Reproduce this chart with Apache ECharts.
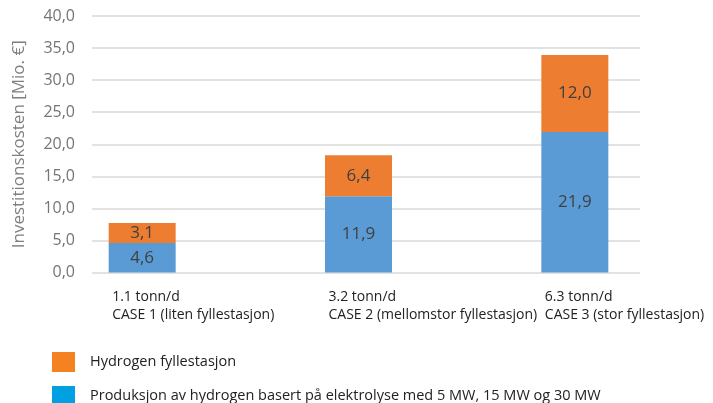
<!DOCTYPE html>
<html>
<head>
<meta charset="utf-8">
<script src="https://cdn.jsdelivr.net/npm/echarts@6/dist/echarts.min.js"></script>
<style>
  html, body { margin: 0; padding: 0; background: #fff; }
  #chart { width: 713px; height: 403px; }
</style>
</head>
<body>
<div id="chart"></div>
<script>
// data
var cases = ['1.1 tonn/d\nCASE 1 (liten fyllestasjon)', '3.2 tonn/d\nCASE 2 (mellomstor fyllestasjon)', '6.3 tonn/d\nCASE 3 (stor fyllestasjon)'];
var produksjon = [4.6, 11.9, 21.9];
var fyllestasjon = [3.1, 6.4, 12.0];
var seriesNames = ['Produksjon av hydrogen basert på elektrolyse med 5 MW, 15 MW og 30 MW', 'Hydrogen fyllestasjon'];

var fmt = function (v) { return Number(v).toFixed(1).replace('.', ','); };
var font = "'Open Sans', 'Noto Sans', sans-serif";

var legendBase = {
    left: 47,
    itemWidth: 23,
    itemHeight: 20,
    icon: 'rect',
    selectedMode: false,
    textStyle: { fontSize: 14.5, color: '#222', padding: [0, 0, 0, 10], fontFamily: font }
};

var myChart = echarts.init(document.getElementById('chart'));
var option = {
    backgroundColor: '#fff',
    animation: false,
    textStyle: { fontFamily: font },
    legend: [
        echarts.util.merge({ top: 347, data: [{ name: seriesNames[1], itemStyle: { color: '#F58220' } }] }, legendBase),
        echarts.util.merge({ top: 381, data: [{ name: seriesNames[0], itemStyle: { color: '#00A0E3' } }] }, legendBase)
    ],
    grid: [
        { left: 92, right: 73, top: 16, bottom: 130.5 },
        { left: 34, right: 30, top: 16, bottom: 130.5 }
    ],
    xAxis: [
        { gridIndex: 0, type: 'category', data: cases, show: false },
        {
            gridIndex: 1,
            type: 'category',
            data: cases,
            axisLine: { show: false },
            axisTick: { show: false },
            axisLabel: {
                interval: 0,
                margin: 16,
                align: 'left',
                padding: [0, 0, 0, -30],
                fontSize: 14,
                lineHeight: 18,
                color: '#222',
                fontFamily: font
            }
        }
    ],
    yAxis: [
        {
            gridIndex: 0,
            type: 'value',
            min: 0,
            max: 40,
            interval: 5,
            name: 'Investitionskosten [Mio. €]',
            nameLocation: 'middle',
            nameGap: 64,
            nameTextStyle: { fontSize: 17, color: '#7f7f7f', fontFamily: font },
            axisLine: { show: false },
            axisTick: { show: false },
            axisLabel: {
                margin: 17,
                fontSize: 16,
                color: '#757575',
                formatter: fmt,
                fontFamily: font
            },
            splitLine: { lineStyle: { color: '#d9d9d9', width: 1.5 } }
        },
        { gridIndex: 1, type: 'value', min: 0, max: 40, show: false, splitLine: { show: false } }
    ],
    series: [
        {
            name: seriesNames[0],
            type: 'bar',
            xAxisIndex: 1,
            yAxisIndex: 1,
            stack: 'total',
            barWidth: 67,
            data: produksjon,
            itemStyle: { color: '#5B9BD5' },
            label: { show: true, position: 'inside', fontSize: 17, color: '#404040', formatter: function (p) { return fmt(p.value); } }
        },
        {
            name: seriesNames[1],
            type: 'bar',
            xAxisIndex: 1,
            yAxisIndex: 1,
            stack: 'total',
            barWidth: 67,
            data: fyllestasjon,
            itemStyle: { color: '#ED7D31' },
            label: { show: true, position: 'inside', fontSize: 17, color: '#404040', formatter: function (p) { return fmt(p.value); } }
        }
    ]
};
myChart.setOption(option);
</script>
</body>
</html>
